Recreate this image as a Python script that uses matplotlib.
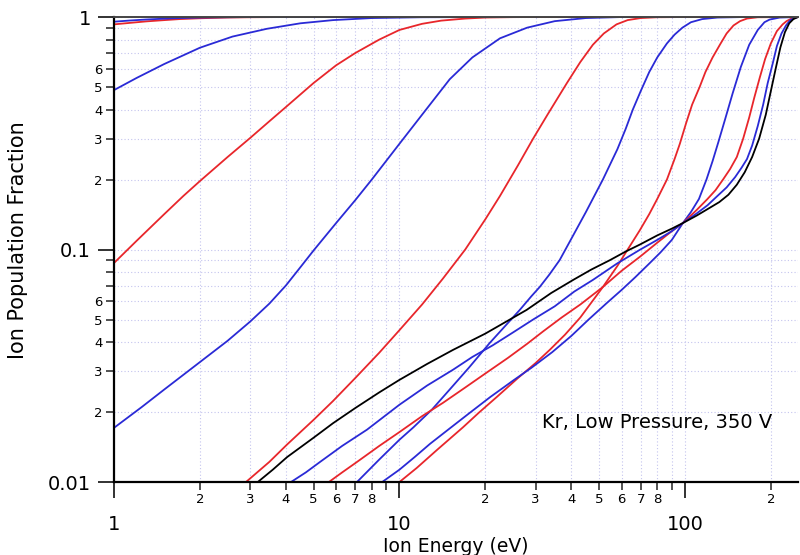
import matplotlib
matplotlib.use("Agg")
import matplotlib.pyplot as plt
from matplotlib.ticker import FixedLocator, FixedFormatter

# --- data (energy in eV, cumulative fraction) ---
b_top_x = [1, 1.15, 1.3, 1.5, 1.7, 2, 2.5, 3, 249]
b_top_y = [0.955, 0.967, 0.976, 0.984, 0.99, 0.995, 0.998, 1.0, 1.0]
r_top_x = [1, 1.15, 1.3, 1.5, 1.7, 2, 2.5, 3, 4, 249]
r_top_y = [0.93, 0.945, 0.958, 0.97, 0.98, 0.988, 0.995, 0.998, 1.0, 1.0]

b1_x = [1, 1.2, 1.5, 2, 2.6, 3.43, 4.5, 5.85, 8, 12, 20, 249]
b1_y = [0.485, 0.547, 0.628, 0.738, 0.824, 0.89, 0.94, 0.97, 0.99, 0.998, 1.0, 1.0]

r1_x = [1, 1.2, 1.5, 1.75, 2, 2.5, 3, 3.5, 4, 5, 6, 7, 8.5, 10, 12, 14, 17, 20, 25,
        30, 249]
r1_y = [0.0875, 0.109, 0.142, 0.17, 0.197, 0.25, 0.302, 0.356, 0.41, 0.52, 0.62,
        0.7, 0.8, 0.88, 0.935, 0.965, 0.985, 0.995, 0.999, 1.0, 1.0]

b2_x = [1, 1.25, 1.5, 2, 2.5, 3, 3.5, 4, 4.5, 5, 6, 7, 8, 10, 12, 15, 18, 22.5, 28,
        35, 45, 60, 249]
b2_y = [0.0171, 0.021, 0.025, 0.0328, 0.0405, 0.049, 0.0585, 0.07, 0.084, 0.099,
        0.13, 0.163, 0.2, 0.285, 0.38, 0.54, 0.67, 0.81, 0.9, 0.96, 0.99, 1.0, 1.0]

r2_x = [2.9, 3.5, 4.04, 5, 5.85, 7, 8.5, 10, 12, 14.2, 17, 20, 22.5, 26, 29.4, 33,
        38.6, 43, 47.6, 52, 57.6, 63, 70, 80, 100, 249]
r2_y = [0.01, 0.0122, 0.0145, 0.0185, 0.0223, 0.028, 0.036, 0.045, 0.058, 0.075,
        0.1, 0.135, 0.17, 0.23, 0.3, 0.38, 0.52, 0.64, 0.76, 0.85, 0.93, 0.97, 0.99,
        0.998, 1.0, 1.0]

k_x = [3.19, 3.6, 4.04, 5, 5.85, 7, 8.5, 10, 12.5, 15.4, 20, 27.9, 34, 40.6, 47,
       54.6, 62, 69.5, 80, 90, 98.4, 110, 122, 132, 142, 152, 162, 172, 182, 192,
       200, 208, 216, 224, 232, 240, 249]
k_y = [0.01, 0.0113, 0.0128, 0.0155, 0.0179, 0.0208, 0.0243, 0.0275, 0.0322, 0.037,
       0.0435, 0.055, 0.065, 0.074, 0.082, 0.09, 0.098, 0.105, 0.115, 0.123, 0.13,
       0.14, 0.151, 0.16, 0.172, 0.19, 0.215, 0.25, 0.3, 0.38, 0.48, 0.6, 0.74, 0.86,
       0.94, 0.98, 1.0]

b3_x = [4.17, 4.7, 5.27, 6.3, 7.7, 10, 12.5, 15.4, 18, 21.2, 25, 29.4, 35, 41, 47.6,
        57.8, 69.5, 80, 90, 98.4, 110, 120, 130, 140, 150, 158, 165, 172, 180, 188,
        195, 203, 210, 218, 226, 234, 242, 249]
b3_y = [0.01, 0.011, 0.0122, 0.0143, 0.0168, 0.0215, 0.026, 0.0304, 0.0345, 0.0387,
        0.044, 0.05, 0.057, 0.066, 0.074, 0.087, 0.0997, 0.11, 0.12, 0.13, 0.143,
        0.155, 0.17, 0.185, 0.205, 0.225, 0.245, 0.28, 0.34, 0.42, 0.52, 0.63, 0.75,
        0.85, 0.92, 0.97, 0.99, 1.0]

r3_x = [5.66, 6.3, 7.1, 8.5, 10, 12, 14.2, 17, 20, 24, 28, 31.9, 37, 43, 51.6, 60,
        69.5, 80, 90, 98.4, 110, 120, 128, 136, 144, 152, 160, 168, 175, 183, 191,
        200, 210, 220, 227, 238, 249]
r3_y = [0.01, 0.011, 0.0122, 0.0143, 0.0164, 0.0192, 0.0219, 0.0255, 0.0293, 0.0342,
        0.0393, 0.0445, 0.051, 0.058, 0.069, 0.081, 0.093, 0.107, 0.12, 0.13, 0.148,
        0.165, 0.18, 0.2, 0.222, 0.25, 0.3, 0.37, 0.45, 0.55, 0.66, 0.77, 0.87, 0.93,
        0.96, 0.99, 1.0]

b4_x = [7.1, 8.5, 10, 11.2, 13, 15, 17.5, 20.7, 23.5, 26.4, 29, 31, 33.5, 36.4, 40.6,
        45, 51.6, 58, 62, 65.7, 70, 75, 80, 86.5, 92, 98, 105, 115, 130, 160, 249]
b4_y = [0.01, 0.0125, 0.0152, 0.0172, 0.0205, 0.025, 0.031, 0.0396, 0.047, 0.055,
        0.063, 0.069, 0.078, 0.09, 0.115, 0.145, 0.2, 0.27, 0.33, 0.4, 0.48, 0.58,
        0.67, 0.77, 0.84, 0.9, 0.95, 0.98, 0.995, 1.0, 1.0]

b5_x = [8.7, 10, 11.3, 12.8, 15, 17.5, 20.8, 25, 29, 34.3, 40, 46, 53.2, 60, 67, 75,
        82, 90, 98.4, 105, 112, 119, 125, 131, 138, 147, 157, 168, 180, 190, 198, 215,
        249]
b5_y = [0.01, 0.0113, 0.0128, 0.0146, 0.017, 0.0197, 0.0232, 0.0273, 0.031, 0.0362,
        0.0425, 0.05, 0.0588, 0.067, 0.076, 0.087, 0.097, 0.11, 0.13, 0.145, 0.165,
        0.2, 0.24, 0.29, 0.36, 0.47, 0.61, 0.76, 0.88, 0.95, 0.975, 0.995, 1.0]

r4_x = [10, 11.5, 13.5, 16.7, 19, 22, 26, 30, 33.6, 38, 43, 51.6, 58, 64, 69.5, 75,
        80, 86.5, 92, 96, 101, 106, 112.6, 118, 125, 132.6, 140, 148, 156, 165, 180,
        249]
r4_y = [0.01, 0.0115, 0.0137, 0.0172, 0.0199, 0.0233, 0.028, 0.0325, 0.037, 0.043,
        0.051, 0.069, 0.085, 0.103, 0.121, 0.142, 0.165, 0.2, 0.245, 0.285, 0.35,
        0.42, 0.5, 0.58, 0.67, 0.76, 0.85, 0.92, 0.96, 0.985, 0.998, 1.0]

x_major = [1, 10, 100]
x_major_labels = ["1", "10", "100"]
y_major = [0.01, 0.1, 1]
y_major_labels = ["0.01", "0.1", "1"]

RED = "#e8262b"
BLUE = "#2a2ad6"

fig = plt.figure(figsize=(8, 5.55), dpi=100)
ax = fig.add_axes([0.1425, 0.1315, 0.855, 0.8378])
ax.set_xscale("log")
ax.set_yscale("log")

curves = [
    (r_top_x, r_top_y, RED), (b_top_x, b_top_y, BLUE),
    (b1_x, b1_y, BLUE), (r1_x, r1_y, RED), (b2_x, b2_y, BLUE),
    (r2_x, r2_y, RED), (b4_x, b4_y, BLUE), (r4_x, r4_y, RED),
    (b5_x, b5_y, BLUE), (r3_x, r3_y, RED), (b3_x, b3_y, BLUE),
    (k_x, k_y, "black"),
]
for xs, ys, c in curves:
    ax.plot(xs, ys, color=c, lw=1.3, solid_joinstyle="round")

ax.set_xlim(1, 249)
ax.set_ylim(0.01, 1)

# ticks: labelled minors like the original
x_minor, x_minor_labels = [], []
for dec in [1, 10, 100]:
    for m in range(2, 10):
        v = m * dec
        if v < 249:
            x_minor.append(v)
            x_minor_labels.append(str(m) if m <= 8 else "")
y_minor, y_minor_labels = [], []
for dec in [0.01, 0.1]:
    for m in range(2, 10):
        y_minor.append(m * dec)
        y_minor_labels.append(str(m) if m <= 6 else "")

ax.xaxis.set_major_locator(FixedLocator(x_major))
ax.xaxis.set_major_formatter(FixedFormatter(x_major_labels))
ax.xaxis.set_minor_locator(FixedLocator(x_minor))
ax.xaxis.set_minor_formatter(FixedFormatter(x_minor_labels))
ax.yaxis.set_major_locator(FixedLocator(y_major))
ax.yaxis.set_major_formatter(FixedFormatter(y_major_labels))
ax.yaxis.set_minor_locator(FixedLocator(y_minor))
ax.yaxis.set_minor_formatter(FixedFormatter(y_minor_labels))

ax.tick_params(which="major", direction="out", length=11.5, width=1.3,
               labelsize=14, color="#222222")
ax.tick_params(which="minor", direction="out", length=5.5, width=1.1,
               labelsize=9.5, color="#222222")
ax.tick_params(axis="x", which="major", pad=12)
ax.tick_params(axis="x", which="minor", pad=2.5)
ax.tick_params(axis="y", which="major", pad=5)
ax.tick_params(axis="y", which="minor", pad=2.5)

ax.grid(which="both", color="#c4c4ee", lw=0.8, linestyle=(0, (1, 2)))
ax.set_axisbelow(True)

for s in ["left", "bottom"]:
    ax.spines[s].set_linewidth(1.6)
    ax.spines[s].set_color("black")
ax.spines["top"].set_linewidth(1.4)
ax.spines["top"].set_color("#444444")
ax.spines["right"].set_visible(False)

fig.text(18 / 800, 1 - 240 / 555, "Ion Population Fraction", rotation=90,
         ha="center", va="center", fontsize=15)
fig.text(456 / 800, 1 - 546 / 555, "Ion Energy (eV)", ha="center", va="center",
         fontsize=13.5)
fig.text(542 / 800, 1 - 422 / 555, "Kr, Low Pressure, 350 V", ha="left",
         va="center", fontsize=14)

fig.savefig("out.png", dpi=100)
